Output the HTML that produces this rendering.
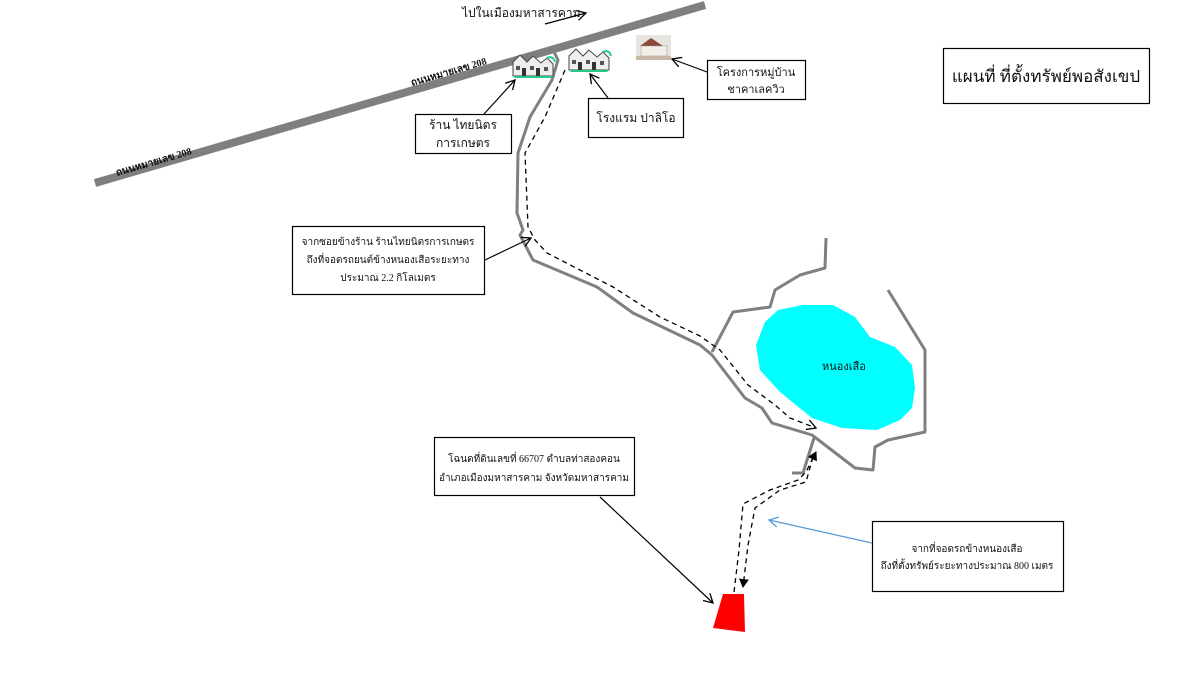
<!DOCTYPE html>
<html><head><meta charset="utf-8"><style>
html,body{margin:0;padding:0;background:#fff;width:1200px;height:675px;overflow:hidden}
svg text{font-family:"Liberation Serif",serif;fill:#111}
</style></head><body>
<svg width="1200" height="675" viewBox="0 0 1200 675" xmlns="http://www.w3.org/2000/svg">
<defs>
<marker id="a" markerWidth="12" markerHeight="12" refX="10" refY="6" orient="auto" markerUnits="userSpaceOnUse"><path d="M1,1 L10,6 L1,11" fill="none" stroke="#000" stroke-width="1.3"/></marker>
<marker id="ab" markerWidth="12" markerHeight="12" refX="10" refY="6" orient="auto" markerUnits="userSpaceOnUse"><path d="M1,1 L10,6 L1,11" fill="none" stroke="#5b9bd5" stroke-width="1.3"/></marker>
<marker id="af" markerWidth="10" markerHeight="10" refX="8" refY="5" orient="auto" markerUnits="userSpaceOnUse"><path d="M0,0 L9,5 L0,10 Z" fill="#000"/></marker>
<g id="h">
<path d="M0,22 L0,8 L7,1 L14,8 L20,2 L28,9 L34,4 L40,10 L40,22 Z" fill="#eee" stroke="#444" stroke-width="1"/>
<rect x="3" y="12" width="4" height="4" fill="#555"/><rect x="17" y="12" width="4" height="4" fill="#555"/><rect x="31" y="13" width="4" height="4" fill="#555"/>
<rect x="9" y="14" width="4" height="8" fill="#333"/><rect x="23" y="14" width="4" height="8" fill="#333"/>
<path d="M0,22 L40,22 L38,24 L2,24Z" fill="#2c8"/><path d="M34,4 Q40,1 42,8" fill="none" stroke="#2c8" stroke-width="2"/>
</g>
</defs>
<line x1="95" y1="183" x2="705" y2="5" stroke="#7f7f7f" stroke-width="8"/>
<text x="0" y="0" font-size="10" font-weight="bold" transform="translate(117,176) rotate(-16.3)">ถนนหมายเลข 208</text>
<text x="0" y="0" font-size="10" font-weight="bold" transform="translate(412,86) rotate(-16.3)">ถนนหมายเลข 208</text>
<text x="462" y="17" font-size="12">ไปในเมืองมหาสารคาม</text>
<line x1="545" y1="24" x2="586" y2="13" stroke="#000" stroke-width="1.2" marker-end="url(#a)"/>
<g fill="none" stroke="#808080" stroke-width="3" stroke-linejoin="round">
<polyline points="552,48 558,60 552,80 530,117 518,153 517,213 523,230 520,235 533,260 597,287 633,313 700,345 712,355 745,398 762,408 772,423 812,435 855,468 873,470 875,447 888,440 925,432 925,350 888,290"/>
<polyline points="712,352 733,312 770,307 775,290 800,275 825,268 826,238"/>
<polyline points="814,438 803,473 792,473"/>
</g>
<path d="M778,310 L803,305 L833,305 L855,317 L870,337 L895,347 L912,365 L915,388 L912,408 L900,420 L877,430 L842,428 L812,418 L780,392 L760,370 L756,345 L765,322 Z" fill="#00ffff"/>
<text x="822" y="370" font-size="11">หนองเสือ</text>
<g fill="none" stroke="#000" stroke-width="1.3" stroke-dasharray="5,4">
<polyline points="565,70 545,117 525,153 528,227 535,240 547,253 613,287 660,317 700,336 720,350 748,385 775,405 790,418 816,428" marker-end="url(#a)"/>
<polyline points="734,592 739,550 743,504 770,490 798,480 806,472 816,452" marker-end="url(#af)"/>
<polyline points="813,457 806,482 780,490 755,508 748,545 743,587" marker-end="url(#af)"/>
</g>
<use href="#h" x="513" y="54"/>
<use href="#h" x="569" y="48"/>
<rect x="636" y="35" width="35" height="25" fill="#e8e4e0"/>
<path d="M640,46 L651,38 L663,46 Z" fill="#8b4a3a"/><rect x="641" y="46" width="26" height="10" fill="#f3efe8" stroke="#999" stroke-width=".5"/>
<rect x="636" y="56" width="35" height="4" fill="#c8b8a8"/>
<g fill="#fff" stroke="#000" stroke-width="1.2">
<rect x="943.5" y="48.5" width="206" height="55"/>
<rect x="707.5" y="60.5" width="98" height="39"/>
<rect x="588.5" y="98.5" width="95" height="39"/>
<rect x="415.5" y="114.5" width="96" height="39"/>
<rect x="292.5" y="226.5" width="192" height="68"/>
<rect x="434.5" y="437.5" width="200" height="58"/>
<rect x="872.5" y="521.5" width="191" height="70"/>
</g>
<text x="1046" y="82" font-size="17" text-anchor="middle">แผนที่ ที่ตั้งทรัพย์พอสังเขป</text>
<text x="756" y="76" font-size="11" text-anchor="middle">โครงการหมู่บ้าน</text>
<text x="756" y="93" font-size="11" text-anchor="middle">ชาคาเลควิว</text>
<text x="636" y="122" font-size="12" text-anchor="middle">โรงแรม ปาลิโอ</text>
<text x="463" y="129" font-size="12" text-anchor="middle">ร้าน ไทยนิตร</text>
<text x="463" y="147" font-size="12" text-anchor="middle">การเกษตร</text>
<text x="388" y="245" font-size="10" text-anchor="middle">จากซอยข้างร้าน ร้านไทยนิตรการเกษตร</text>
<text x="388" y="263" font-size="10" text-anchor="middle">ถึงที่จอดรถยนต์ข้างหนองเสือระยะทาง</text>
<text x="388" y="281" font-size="10" text-anchor="middle">ประมาณ 2.2 กิโลเมตร</text>
<text x="534" y="462" font-size="10" text-anchor="middle">โฉนดที่ดินเลขที่ 66707 ตำบลท่าสองคอน</text>
<text x="534" y="481" font-size="10" text-anchor="middle">อำเภอเมืองมหาสารคาม จังหวัดมหาสารคาม</text>
<text x="967" y="552" font-size="10" text-anchor="middle">จากที่จอดรถข้างหนองเสือ</text>
<text x="967" y="569" font-size="10" text-anchor="middle">ถึงที่ตั้งทรัพย์ระยะทางประมาณ 800 เมตร</text>
<g stroke="#000" stroke-width="1.2" fill="none">
<line x1="484" y1="114" x2="515" y2="80" marker-end="url(#a)"/>
<line x1="608" y1="98" x2="590" y2="74" marker-end="url(#a)"/>
<line x1="707" y1="72" x2="672" y2="59" marker-end="url(#a)"/>
<line x1="485" y1="260" x2="531" y2="238" marker-end="url(#a)"/>
<line x1="600" y1="497" x2="713" y2="603" marker-end="url(#a)"/>
</g>
<line x1="872" y1="543" x2="769" y2="520" stroke="#5b9bd5" stroke-width="1.2" marker-end="url(#ab)"/>
<polygon points="723,594 744,594 745,632 713,628" fill="#ff0000"/>
</svg>
</body></html>
